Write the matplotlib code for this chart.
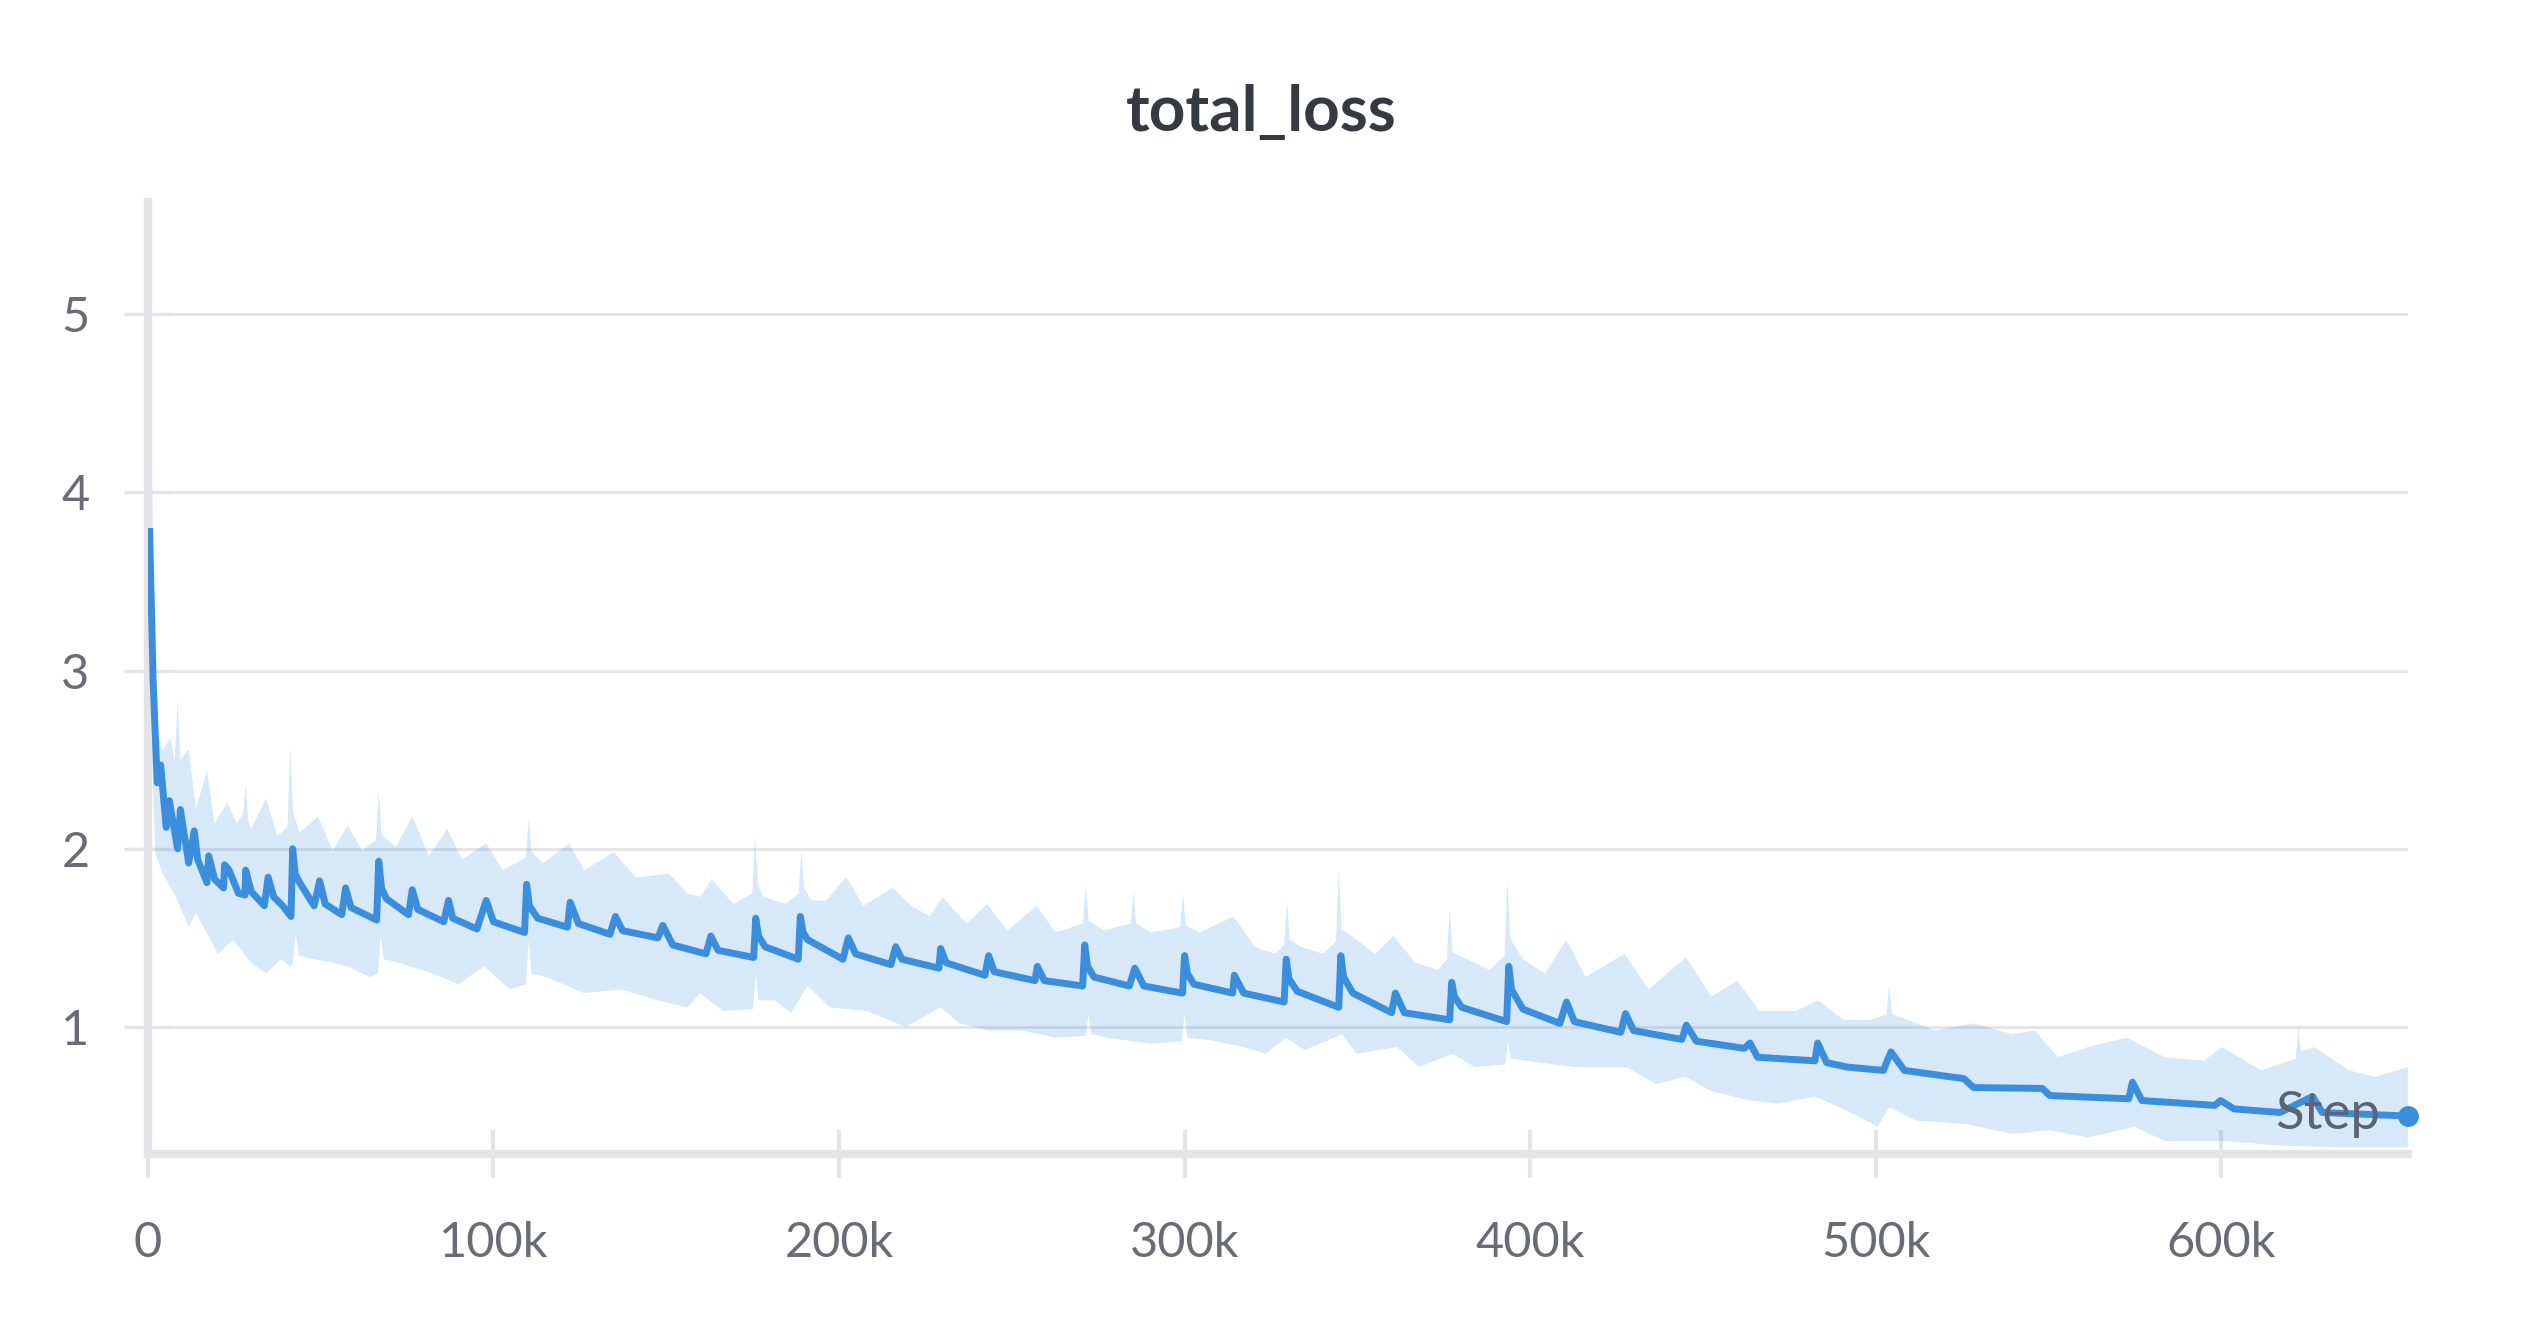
import matplotlib
matplotlib.use("Agg")
import matplotlib.pyplot as plt
import numpy as np

# mean curve (step in thousands, loss)
mean_steps = [0.5, 1.5, 2.7, 3.7, 5.3, 6.2, 8.6, 9.4, 11.8, 13.4, 14.4, 17.1, 17.6, 19.3,
              21.9, 22.2, 23.5, 26.2, 28.1, 28.3, 29.9, 33.7, 34.8, 36.4, 39.0, 41.4, 41.9,
              42.6, 43.9, 48.1, 49.7, 51.3, 56.1, 57.2, 58.8, 66.2, 66.8, 67.6, 69.0, 75.4,
              76.5, 78.1, 85.6, 87.0, 88.2, 95.2, 97.9, 100.0, 109.0, 109.6, 110.4, 112.8,
              121.4, 122.2, 124.6, 133.7, 135.3, 137.4, 147.6, 149.0, 151.9, 161.5, 162.9,
              165.0, 175.3, 175.9, 176.7, 178.6, 188.2, 188.8, 189.6, 190.9, 201.1, 202.7,
              204.8, 215.0, 216.4, 218.2, 228.9, 229.4, 231.0, 242.2, 243.3, 244.9, 256.7,
              257.4, 259.4, 270.5, 271.1, 271.9, 273.8, 284.0, 285.6, 288.2, 299.4, 300.0,
              300.8, 302.7, 313.9, 314.4, 317.1, 328.8, 329.4, 330.2, 332.6, 344.6, 345.2,
              346.0, 348.7, 359.9, 361.0, 363.6, 376.7, 377.3, 378.1, 380.2, 393.2, 393.8,
              394.6, 397.9, 408.6, 410.5, 412.8, 426.2, 427.6, 429.9, 443.9, 445.2, 448.1,
              462.0, 463.6, 465.8, 482.4, 483.2, 485.8, 491.7, 502.2, 504.4, 508.3, 525.5,
              528.3, 548.2, 550.4, 573.2, 574.3, 577.0, 598.1, 599.8, 603.7, 617.0, 626.4,
              629.2, 654.0]
mean_loss = [3.78, 2.95, 2.37, 2.47, 2.12, 2.27, 2.00, 2.22, 1.92, 2.10, 1.94, 1.81, 1.96, 1.83,
             1.78, 1.91, 1.88, 1.75, 1.74, 1.88, 1.76, 1.68, 1.84, 1.73, 1.68, 1.62, 2.00,
             1.86, 1.81, 1.68, 1.82, 1.69, 1.63, 1.78, 1.67, 1.60, 1.93, 1.78, 1.72, 1.63,
             1.77, 1.66, 1.59, 1.71, 1.61, 1.55, 1.71, 1.59, 1.53, 1.80, 1.68, 1.61,
             1.56, 1.70, 1.58, 1.52, 1.62, 1.54, 1.50, 1.57, 1.46, 1.41, 1.51,
             1.43, 1.39, 1.61, 1.51, 1.45, 1.38, 1.62, 1.53, 1.49, 1.38, 1.50,
             1.41, 1.35, 1.45, 1.38, 1.33, 1.44, 1.36, 1.29, 1.40, 1.31, 1.26,
             1.34, 1.26, 1.23, 1.46, 1.34, 1.28, 1.23, 1.33, 1.23, 1.19, 1.40,
             1.30, 1.24, 1.19, 1.29, 1.19, 1.14, 1.38, 1.27, 1.20, 1.11, 1.40,
             1.28, 1.19, 1.08, 1.19, 1.08, 1.04, 1.25, 1.17, 1.11, 1.03, 1.34,
             1.21, 1.10, 1.02, 1.14, 1.03, 0.97, 1.075, 0.98, 0.93, 1.01, 0.92,
             0.88, 0.91, 0.83, 0.81, 0.91, 0.80, 0.775, 0.756, 0.86, 0.756, 0.71,
             0.66, 0.655, 0.615, 0.597, 0.69, 0.587, 0.56, 0.587, 0.54, 0.52, 0.61,
             0.52, 0.50]

# shaded min/max band
upper_steps = [0, 1.0, 1.5, 2.1, 4.3, 6.5, 7.8, 8.6, 9.4, 11.8, 13.9, 17.1, 19.3, 23.0, 25.7,
               27.6, 28.3, 29.1, 29.9, 34.2, 37.4, 40.4, 41.2, 42.0, 43.9, 49.2, 53.5, 57.8,
               62.0, 66.0, 66.8, 67.6, 71.7, 76.5, 81.3, 86.6, 90.9, 97.9, 102.7, 109.4,
               110.2, 111.0, 114.4, 121.9, 126.2, 134.8, 141.2, 150.8, 156.1, 159.9, 163.1,
               169.5, 174.9, 175.7, 176.5, 178.1, 184.5, 188.3, 189.1, 189.9, 192.0, 196.3,
               202.1, 207.0, 215.5, 220.9, 226.2, 229.9, 236.9, 242.8, 248.7, 257.2, 262.6,
               270.6, 271.4, 272.2, 276.5, 284.4, 285.2, 286.0, 290.4, 298.7, 299.5, 300.3,
               304.3, 314.2, 320.3, 326.2, 328.8, 329.6, 330.4, 333.7, 340.1, 343.8, 344.6,
               345.4, 349.7, 355.1, 360.4, 366.8, 373.3, 375.9, 376.7, 377.5, 381.8, 388.2,
               392.6, 393.4, 394.2, 397.9, 404.3, 410.5, 416.0, 427.3, 434.2, 445.1, 452.4,
               459.9, 466.3, 477.0, 483.4, 490.6, 498.3, 503.1, 503.9, 504.7, 509.4, 517.2,
               528.3, 539.4, 546.0, 552.7, 561.5, 572.6, 583.7, 594.8, 600.3, 611.4, 621.5,
               622.3, 623.1, 626.9, 636.9, 644.7, 654.0]
upper_loss = [5.5, 4.6, 3.6, 2.7, 2.55, 2.62, 2.5, 2.84, 2.5, 2.56, 2.22, 2.44, 2.14, 2.26, 2.14,
              2.2, 2.36, 2.15, 2.11, 2.28, 2.07, 2.12, 2.57, 2.2, 2.09, 2.18, 1.99, 2.13,
              1.99, 2.05, 2.33, 2.08, 2.01, 2.18, 1.96, 2.11, 1.94, 2.03, 1.88, 1.95,
              2.17, 1.98, 1.92, 2.03, 1.88, 1.98, 1.84, 1.86, 1.75, 1.73, 1.83,
              1.69, 1.75, 2.07, 1.8, 1.73, 1.69, 1.75, 1.99, 1.78, 1.71, 1.71,
              1.84, 1.68, 1.78, 1.68, 1.62, 1.73, 1.58, 1.69, 1.54, 1.68, 1.53,
              1.58, 1.80, 1.6, 1.54, 1.58, 1.76, 1.58, 1.53, 1.56, 1.75, 1.57,
              1.53, 1.62, 1.45, 1.41, 1.46, 1.71, 1.49, 1.45, 1.41, 1.48, 1.88,
              1.55, 1.49, 1.41, 1.51, 1.36, 1.32, 1.38, 1.66, 1.42, 1.38, 1.32,
              1.4, 1.83, 1.5, 1.38, 1.30, 1.49, 1.28, 1.41, 1.21, 1.39, 1.17,
              1.26, 1.09, 1.09, 1.15, 1.04, 1.04, 1.07, 1.24, 1.07, 1.04, 0.98,
              1.02, 0.96, 0.98, 0.83, 0.887, 0.94, 0.83, 0.81, 0.887, 0.756, 0.82,
              1.0, 0.86, 0.887, 0.756, 0.72, 0.775]
lower_steps = [0, 1.0, 2.1, 4.3, 8.6, 11.8, 13.9, 20.3, 24.6, 29.9, 34.2, 38.5, 41.2, 42.0, 42.8,
               43.6, 46.0, 53.5, 57.8, 64.2, 66.6, 67.4, 68.2, 72.7, 82.4, 89.8, 97.3, 104.8,
               109.4, 110.2, 111.0, 115.5, 126.2, 136.9, 147.6, 156.1, 159.9, 166.3, 175.1,
               175.9, 176.7, 181.3, 186.1, 190.9, 197.3, 208.0, 219.3, 229.4, 234.8, 243.3,
               252.9, 262.6, 271.4, 272.2, 273.0, 277.5, 290.4, 299.2, 300.0, 300.8, 307.5,
               317.1, 323.5, 329.4, 334.8, 345.5, 349.7, 361.5, 367.9, 377.5, 384.0, 392.8,
               393.6, 394.4, 398.9, 412.8, 427.8, 436.4, 444.9, 452.4, 463.1, 471.7, 482.4,
               491.7, 500.6, 503.9, 511.6, 526.1, 539.4, 550.4, 561.5, 574.8, 583.7, 600.3,
               617.0, 633.6, 654.0]
lower_loss = [3.4, 2.6, 1.98, 1.86, 1.71, 1.56, 1.64, 1.41, 1.49, 1.36, 1.30, 1.38, 1.34, 1.36, 1.53,
              1.4, 1.39, 1.36, 1.34, 1.28, 1.3, 1.53, 1.38, 1.36, 1.30, 1.24, 1.34, 1.21,
              1.24, 1.49, 1.3, 1.28, 1.19, 1.21, 1.15, 1.11, 1.19, 1.09, 1.1,
              1.30, 1.15, 1.15, 1.08, 1.23, 1.11, 1.09, 1.00, 1.11, 1.02, 0.98,
              0.98, 0.94, 0.95, 1.075, 0.96, 0.94, 0.906, 0.92, 1.075, 0.94, 0.925,
              0.887, 0.85, 0.94, 0.87, 0.96, 0.85, 0.887, 0.775, 0.85, 0.775, 0.79,
              0.925, 0.82, 0.81, 0.775, 0.775, 0.68, 0.72, 0.64, 0.59, 0.57, 0.61,
              0.53, 0.44, 0.55, 0.475, 0.456, 0.40, 0.42, 0.38, 0.44, 0.36, 0.36,
              0.334, 0.325, 0.325]

y_ticks = [1, 2, 3, 4, 5]
x_ticks = [0, 100, 200, 300, 400, 500, 600]
x_labels = ["0", "100k", "200k", "300k", "400k", "500k", "600k"]

blue = "#3b8edc"
gray_axis = "#e4e4e8"
label_color = "#6b6b76"

plt.rcParams["font.family"] = ["Lato", "DejaVu Sans"]

fig = plt.figure(figsize=(25.28, 13.28), dpi=100)
ax = fig.add_axes([0.0585, 0.131, 0.894, 0.717])

band_x = upper_steps + lower_steps[::-1]
band_y = upper_loss + lower_loss[::-1]
ax.fill(band_x, band_y, color=blue, alpha=0.2, lw=0, zorder=2)
ax.plot(mean_steps, mean_loss, color=blue, lw=5, zorder=3)
ax.plot(mean_steps[-1], mean_loss[-1], "o", color=blue, ms=14, zorder=4, clip_on=False)

ax.text(646, 0.51, "Step", ha="right", va="center", fontsize=38, color="#5c6474", zorder=5)

ax.set_xlim(0, 654)
ax.set_ylim(0.287, 5.63)
ax.set_xticks(x_ticks)
ax.set_xticklabels(x_labels)
ax.set_yticks(y_ticks)

for side in ["top", "right"]:
    ax.spines[side].set_visible(False)
for side in ["left", "bottom"]:
    ax.spines[side].set_color(gray_axis)
    ax.spines[side].set_linewidth(6)

ax.yaxis.grid(True, color=gray_axis, lw=2, zorder=0)
ax.set_axisbelow(True)
ax.tick_params(axis="y", direction="inout", length=34, width=2.5, color=gray_axis,
               labelsize=35, labelcolor=label_color, pad=25)
ax.tick_params(axis="x", direction="inout", length=34, width=3, color=gray_axis,
               labelsize=35, labelcolor=label_color, pad=31)

fig.text(0.499, 0.915, "total_loss", ha="center", va="center", fontsize=46,
         fontweight="bold", color="#343a40")

fig.savefig("out.png", dpi=100, facecolor="white")
